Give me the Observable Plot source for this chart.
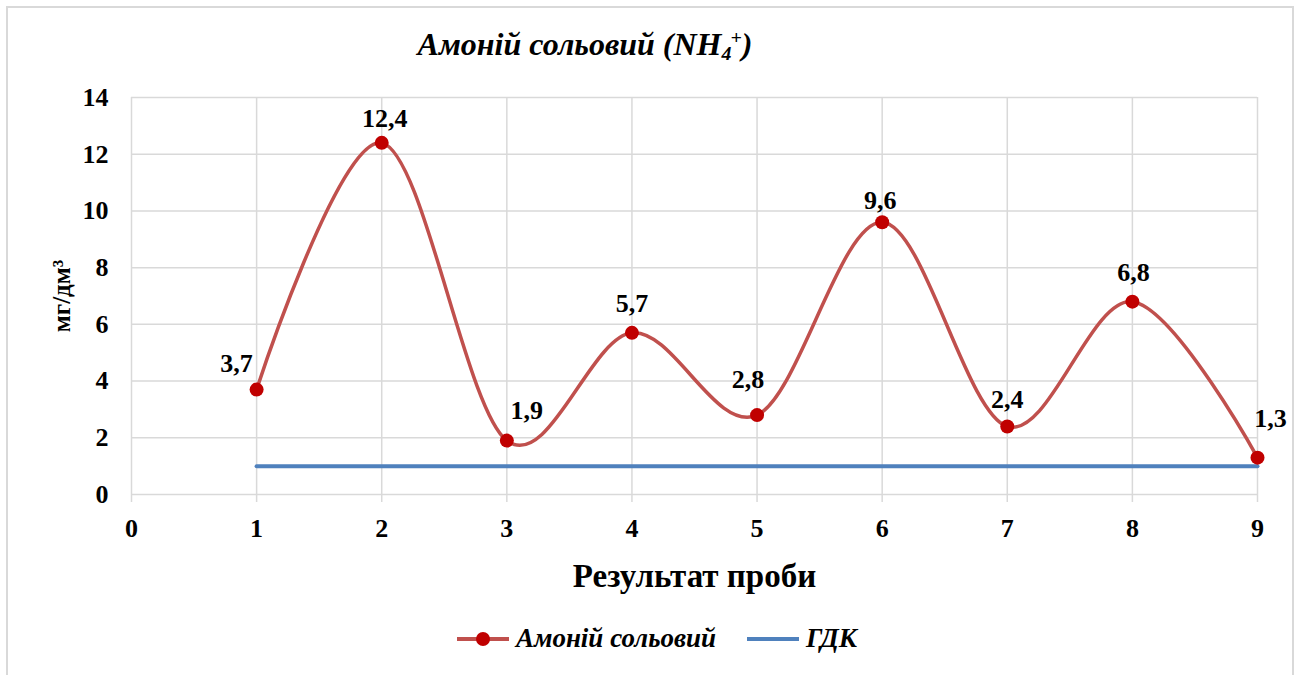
<!DOCTYPE html>
<html>
<head>
<meta charset="utf-8">
<script src="https://cdn.jsdelivr.net/npm/d3@7"></script>
<script src="https://cdn.jsdelivr.net/npm/@observablehq/plot@0.6"></script>
<style>
  html, body { margin: 0; padding: 0; background: #fff; }
  body { width: 1298px; height: 675px; position: relative; overflow: hidden; font-family: "Liberation Serif", "Times New Roman", serif; }
  #frame { position: absolute; left: 6px; top: 6px; width: 1284px; height: 720px; border: 2px solid #d9d9d9; border-bottom: none; }
  #title { position: absolute; left: 0; width: 1170px; top: 26px; text-align: center; font-size: 32px; font-weight: bold; font-style: italic; color: #000; }
  #title sub { font-size: 0.62em; vertical-align: -0.25em; line-height: 0; }
  #title sup { font-size: 0.62em; vertical-align: 0.55em; line-height: 0; margin-left: -0.05em; }
  #chart { position: absolute; left: 0; top: 70px; }
  #chart svg text { font-family: "Liberation Serif", "Times New Roman", serif !important; font-weight: bold !important; font-size: 26px !important; }
  #chart svg g[aria-label="x-axis label"] text { font-size: 33px !important; }
  #chart svg g[aria-label="y-axis label"] text { font-size: 25px !important; }
  #legend { position: absolute; left: 0; top: 623px; width: 1314px; display: flex; justify-content: center; align-items: center; gap: 0; font-size: 27px; font-weight: bold; font-style: italic; }
  .item { display: flex; align-items: center; }
  .item svg { margin-right: 7px; }
</style>
</head>
<body>
<div id="frame"></div>
<div id="title">Амоній сольовий (NH<sub>4</sub><sup>+</sup>)</div>
<div id="chart"></div>
<div id="legend"></div>
<script>
// ---- data ----
const samples = [1, 2, 3, 4, 5, 6, 7, 8, 9];
const ammonium = [3.7, 12.4, 1.9, 5.7, 2.8, 9.6, 2.4, 6.8, 1.3];
const mpcSamples = [1, 9];
const mpcValues = [1, 1];
const xTicks = [0, 1, 2, 3, 4, 5, 6, 7, 8, 9];
const yTicks = [0, 2, 4, 6, 8, 10, 12, 14];
const seriesName = "Амоній сольовий";
const mpcName = "ГДК";
const xLabel = "Результат проби";
const yLabel = "мг/дм³";

// label offsets (pixels), styling only
const labelDx = [-20, 3, 20, 0, -9, -2, 0, 1, 13];
const labelDy = [-26, -24, -30, -29, -35, -22, -27, -29, -39];

const red = "#c0504d", dotRed = "#c00000", blue = "#4f81bd", grid = "#d9d9d9";

const rows = samples.map((s, i) => ({ sample: s, value: ammonium[i], label: String(ammonium[i]).replace(".", ",") }));
const mpcRows = mpcSamples.map((s, i) => ({ sample: s, value: mpcValues[i] }));

const labelMarks = rows.map((r, i) => Plot.text([r], {
  x: "sample", y: "value", text: "label", dx: labelDx[i], dy: labelDy[i],
  fontSize: 26, fontWeight: "bold", fill: "#000"
}));

const chart = Plot.plot({
  width: 1298,
  height: 540,
  marginTop: 27,
  marginBottom: 116,
  marginLeft: 131,
  marginRight: 41,
  x: { domain: [0, 9] },
  y: { domain: [0, 14] },
  style: { fontFamily: "'Liberation Serif', 'Times New Roman', serif", fontWeight: "bold", fontSize: "26px", color: "#000", background: "transparent", overflow: "visible" },
  marks: [
    Plot.gridX(xTicks, { stroke: grid, strokeOpacity: 1, strokeWidth: 1.5 }),
    Plot.gridY(yTicks, { stroke: grid, strokeOpacity: 1, strokeWidth: 1.5 }),
    Plot.axisX(xTicks, { tickSize: 8, tickPadding: 16, tickFormat: d => String(d), stroke: grid, strokeOpacity: 1, strokeWidth: 1.5, fill: "#000", fontSize: 26,
      label: xLabel, labelAnchor: "center", labelOffset: 92, labelArrow: "none" }),
    Plot.axisY(yTicks, { tickSize: 0, tickPadding: 23, tickFormat: d => String(d), fill: "#000", fontSize: 26,
      label: yLabel, labelAnchor: "center", labelOffset: 79, labelArrow: "none" }),
    Plot.line(mpcRows, { x: "sample", y: "value", stroke: blue, strokeWidth: 4 }),
    Plot.line(rows, { x: "sample", y: "value", stroke: red, strokeWidth: 3.5, curve: "cardinal" }),
    Plot.dot(rows, { x: "sample", y: "value", r: 7, fill: dotRed, stroke: "none" }),
    ...labelMarks
  ]
});
document.getElementById("chart").appendChild(chart);

// legend
const legend = document.getElementById("legend");
function item(swatch, text, gapAfter) {
  const d = document.createElement("div");
  d.className = "item";
  d.innerHTML = swatch + `<span>${text}</span>`;
  if (gapAfter) d.style.marginRight = gapAfter + "px";
  legend.appendChild(d);
}
item(`<svg width="52" height="16"><line x1="0" y1="8" x2="52" y2="8" stroke="${red}" stroke-width="4"/><circle cx="26" cy="8" r="7" fill="${dotRed}"/></svg>`, seriesName, 31);
item(`<svg width="52" height="16"><line x1="0" y1="8" x2="52" y2="8" stroke="${blue}" stroke-width="4"/></svg>`, mpcName, 0);
</script>
</body>
</html>
